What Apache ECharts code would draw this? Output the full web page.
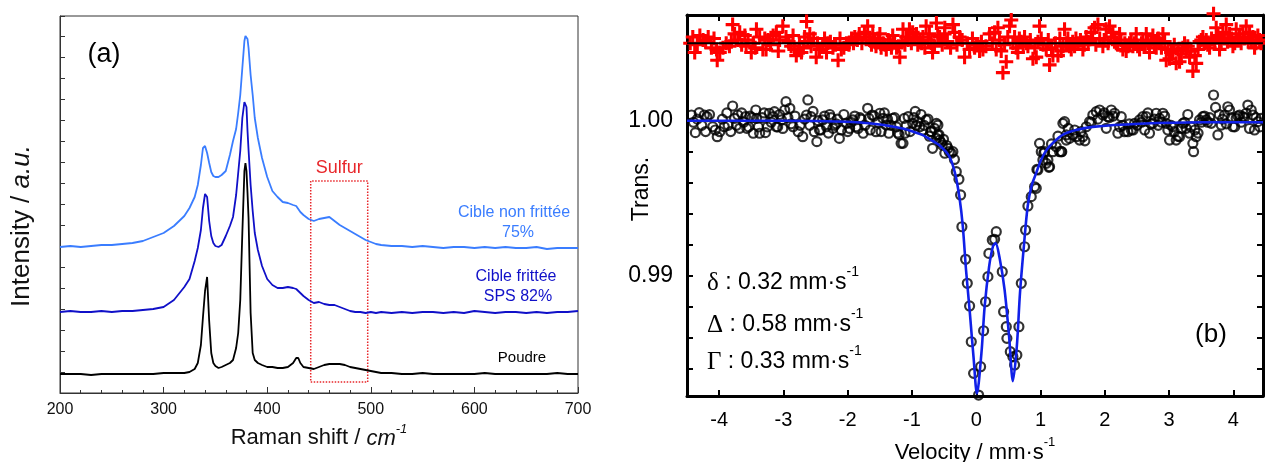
<!DOCTYPE html>
<html><head><meta charset="utf-8">
<script src="https://cdn.jsdelivr.net/npm/echarts@6/dist/echarts.min.js"></script>
<style>html,body{margin:0;padding:0;background:#fff}#c{width:1265px;height:462px}</style>
</head><body><div id="c"></div>
<script>
// ---------- Panel (a): Raman spectra ----------
const ramanShift = [200,210,220,230,240,250,260,270,280,290,300,310,320,325,330,333,336,338,340,342,344,346,348,350,353,356,360,364,367,370,372,374,376,378,379,380,381,382,384,386,388,391,395,400,405,410,415,420,425,428,430,432,435,440,445,450,455,460,465,470,475,480,485,490,495,500,505,510,520,530,540,550,560,570,580,590,600,610,620,630,640,650,660,670,680,690,700];
const ramanNonFrittee = [146,147,146,147,148,148,149,150,152,156,160,167,177,185,196,208,228,245,247,240,230,221,217,216,216,218,222,238,252,264,280,298,325,352,357,356,354,345,318,298,275,255,235,216,202,196,191,190,188,187,184,181,178,174,172,174,175,176,172,168,165,162,159,156,153,151,149,148,147,147,146,147,146,145,146,146,145,146,145,146,145,145,146,144,145,145,145];
const ramanFrittee = [81,82,81,81,82,81,82,82,83,84,86,93,106,114,132,145,163,185,199,196,172,157,150,147,146,148,157,167,176,198,220,242,275,291,291,286,262,243,208,182,160,143,127,114,108,105,105,106,105,104,102,100,97,93,90,91,89,88,88,86,84,82,81,81,80,81,80,81,80,81,80,81,81,80,81,80,82,81,80,81,81,80,81,80,81,81,82];
const ramanPoudre = [19,19,19,18,19,19,19,19,19,19,20,20,20,21,24,30,48,76,102,116,72,40,30,27,25,26,28,30,33,45,60,93,160,222,230,222,200,175,80,40,33,30,28,26,26,25,25,26,30,35,35,30,26,25,24,26,28,29,29,29,28,26,25,24,23,22,21,20,20,19,19,20,19,19,19,19,19,20,19,19,19,19,19,19,20,19,19];
const ramanTicks = [200,300,400,500,600,700];
const sulfurBoxX = [442,497];
const sulfurBoxY = [11,212];

// ---------- Panel (b): Mossbauer spectrum ----------
const velocityTicks = [-4,-3,-2,-1,0,1,2,3,4];
const transTicks = [0.984,0.986,0.988,0.990,0.992,0.994,0.996,0.998,1.000];
const transLabels = [0.99,1.00];
const residualZero = 1.005;
const mossSpectrum = [
[-4.43,1.00037],[-4.40,0.9999],[-4.37,0.99923],[-4.34,1.0001],[-4.31,1.00052],[-4.27,0.9997],[-4.23,1.00037],[-4.21,0.9993],[-4.19,1.00026],[-4.15,1.0004],[-4.10,0.99961],[-4.06,0.9994],[-4.03,0.99897],[-3.99,0.99929],[-3.95,1.0001],[-3.92,0.99961],[-3.88,1.0005],[-3.86,0.9997],[-3.82,0.9993],[-3.79,1.00095],[-3.76,1.00015],[-3.73,0.9997],[-3.71,1.00037],[-3.68,0.99951],[-3.65,1.0005],[-3.62,0.9999],[-3.59,1.00026],[-3.57,0.99951],[-3.54,0.9996],[-3.52,1.0003],[-3.49,1.0002],[-3.47,0.99919],[-3.43,1.00069],[-3.42,1.00015],[-3.39,0.9996],[-3.37,0.99919],[-3.33,1.0002],[-3.30,1.0005],[-3.28,0.99923],[-3.25,0.9996],[-3.22,1.00048],[-3.19,0.9999],[-3.16,1.00026],[-3.14,1.00058],[-3.11,0.9996],[-3.09,0.9996],[-3.06,1.0004],[-3.03,1.00005],[-3.01,0.9995],[-2.98,1.00069],[-2.96,1.00123],[-2.93,1.0002],[-2.90,1.00080],[-2.88,0.9998],[-2.85,0.99961],[-2.82,1.0003],[-2.77,0.99929],[-2.74,0.9997],[-2.70,0.99897],[-2.67,1.0001],[-2.64,1.00037],[-2.62,1.00134],[-2.59,0.9997],[-2.57,1.00026],[-2.54,1.0006],[-2.52,0.99929],[-2.48,0.99865],[-2.46,1.0000],[-2.44,0.9994],[-2.42,0.9994],[-2.39,1.00005],[-2.36,1.0003],[-2.33,0.99961],[-2.30,0.9992],[-2.28,1.0004],[-2.26,1.0002],[-2.23,0.99951],[-2.20,0.9997],[-2.18,0.9998],[-2.16,1.0001],[-2.13,0.99886],[-2.10,0.99940],[-2.06,1.0004],[-2.02,0.99983],[-2.00,0.9993],[-1.97,0.9995],[-1.95,0.9999],[-1.92,1.00005],[-1.89,1.0003],[-1.87,0.99961],[-1.84,0.9995],[-1.81,1.0002],[-1.79,1.0001],[-1.76,0.99919],[-1.73,0.9997],[-1.69,1.00080],[-1.67,1.00015],[-1.65,0.9994],[-1.62,1.00037],[-1.59,1.0003],[-1.56,0.99929],[-1.53,0.9999],[-1.50,1.00048],[-1.48,0.9993],[-1.45,1.00015],[-1.43,1.0005],[-1.40,0.99972],[-1.38,1.0001],[-1.36,0.99919],[-1.33,0.9997],[-1.30,1.00015],[-1.27,1.0002],[-1.24,0.9996],[-1.22,0.9992],[-1.20,0.9991],[-1.17,0.99854],[-1.14,0.99854],[-1.12,1.00015],[-1.11,0.99919],[-1.09,0.9997],[-1.06,1.00026],[-1.03,0.9993],[-0.99,0.99983],[-0.97,1.0002],[-0.95,1.0006],[-0.93,0.9997],[-0.91,0.99994],[-0.88,0.99961],[-0.86,1.0004],[-0.83,0.99940],[-0.81,0.9997],[-0.78,1.00005],[-0.75,1.0001],[-0.73,0.9990],[-0.71,0.9993],[-0.70,0.99929],[-0.68,0.99822],[-0.65,0.9995],[-0.62,0.99983],[-0.62,0.99886],[-0.60,0.99908],[-0.597,0.99972],[-0.58,0.9991],[-0.571,0.99875],[-0.55,0.9986],[-0.529,0.99843],[-0.51,0.9988],[-0.49,0.99790],[-0.46,0.9984],[-0.442,0.99822],[-0.42,0.9980],[-0.39,0.9979],[-0.364,0.99800],[-0.34,0.9975],
[-0.311,0.99671],[-0.270,0.99622],[-0.244,0.99521],[-0.224,0.99316],[-0.166,0.99106],[-0.140,0.98951],[-0.104,0.98805],[-0.078,0.98574],[-0.042,0.98370],[0.036,0.98230],[0.067,0.98413],[0.114,0.98645],[0.145,0.98832],[0.181,0.98994],[0.196,0.99144],[0.249,0.99230],[0.285,0.99235],[0.311,0.99284],[0.404,0.99026],[0.425,0.98768],[0.467,0.98671],[0.476,0.98596],[0.529,0.98510],[0.569,0.98477],[0.596,0.98424],[0.631,0.98488],[0.663,0.98671],[0.700,0.98951],[0.751,0.99187],[0.767,0.99295],[0.803,0.99450],[0.855,0.99510],[0.907,0.99574],[0.933,0.99564],[0.943,0.99686],[0.958,0.99682],
[0.984,0.99854],[1.011,0.99800],[1.036,0.99746],[1.05,0.9979],[1.062,0.99800],[1.089,0.99725],[1.114,0.99746],[1.130,0.99699],[1.140,0.99703],[1.17,0.9985],[1.191,0.99800],[1.244,0.99832],[1.27,0.9990],[1.295,0.99800],[1.322,0.99800],[1.33,0.9980],[1.347,0.99983],[1.373,0.99994],[1.400,0.99875],[1.40,0.99908],[1.43,0.9995],[1.451,0.99886],[1.502,0.99908],[1.53,0.9994],[1.555,0.99897],[1.607,0.99875],[1.63,0.9993],[1.658,0.99897],[1.69,0.9987],[1.711,0.99961],[1.762,0.99994],[1.79,0.9999],[1.813,1.00037],[1.866,1.00058],[1.89,1.0001],[1.918,1.00069],[1.969,1.00037],[1.99,1.0005],[2.022,0.99951],[2.047,1.00026],[2.07,1.0002],[2.100,1.00069],[2.13,1.0003],[2.151,1.00048],[2.202,0.99919],[2.23,0.9996],[2.255,1.00026],[2.28,0.9997],[2.306,0.99929],[2.358,0.99929],[2.38,0.9998],[2.411,0.99940],[2.44,0.9994],[2.462,0.99983],[2.50,0.9997],[2.540,1.00005],[2.57,0.9999],[2.591,1.00026],[2.62,0.9994],[2.644,1.00026],[2.67,1.0005],[2.695,0.99919],[2.72,0.9998],[2.747,0.99983],[2.77,1.0001],[2.799,1.00048],[2.83,0.9997],[2.851,1.00015],[2.88,0.9999],[2.902,1.00048],[2.93,1.0003],[2.955,0.99983],[2.98,0.9994],[3.006,0.99875],[3.03,0.9997],[3.058,0.99961],[3.08,0.9993],[3.110,0.99875],[3.14,0.9990],[3.162,0.99897],[3.19,0.9995],[3.213,0.99983],[3.24,0.9999],[3.265,0.99951],[3.29,1.0004],[3.317,0.99919],[3.34,0.9996],[3.369,0.99854],[3.380,0.99800],[3.40,0.9994],[3.421,0.99897],[3.45,0.9992],[3.473,1.00005],[3.50,0.9999],[3.524,1.00026],[3.55,1.0003],[3.577,1.00005],[3.60,0.9999],[3.63,1.0002],[3.655,0.99983],[3.691,1.00166],[3.722,1.00086],[3.758,0.99908],[3.78,1.0004],[3.810,0.99972],[3.83,1.0001],[3.862,1.00037],[3.89,0.9998],[3.913,1.00090],[3.940,1.00069],[3.97,1.0002],[3.991,0.99961],[4.02,0.9996],[4.043,1.00015],[4.07,1.0003],[4.095,1.00037],[4.12,0.9999],[4.146,1.00026],[4.17,1.0002],[4.199,1.00048],[4.224,1.00101],[4.25,0.9995],[4.277,1.00069],[4.302,1.00037],[4.328,0.99940],[4.35,1.0002],[4.380,0.99994],[4.41,0.9996],[4.432,1.00015]
];
const mossFit = [[-4.5,1.0000],[-3.0,1.0000],[-2.0,0.99993],[-1.6,0.9998],[-1.15,0.9995],[-0.85,0.9991],[-0.72,0.9988],[-0.57,0.9984],[-0.42,0.9977],[-0.33,0.9966],[-0.26,0.9950],[-0.21,0.9932],[-0.16,0.9904],[-0.10,0.9876],[-0.04,0.9846],[0.01,0.9824],[0.08,0.9850],[0.13,0.9880],[0.20,0.9906],[0.26,0.9919],[0.30,0.9921],[0.36,0.9912],[0.44,0.9891],[0.51,0.9861],[0.57,0.9832],[0.63,0.9854],[0.68,0.9889],[0.74,0.9919],[0.80,0.9945],[0.86,0.9958],[0.93,0.9966],[1.00,0.9974],[1.09,0.9981],[1.20,0.9986],[1.35,0.9991],[1.55,0.9994],[1.81,0.9996],[2.54,0.9998],[3.5,0.9999],[4.46,0.9999]];
const mossResidual = [
[-4.45,1.0050],[-4.41,1.0054],[-4.38,1.0044],[-4.34,1.0049],[-4.30,1.0055],[-4.25,1.0052],[-4.21,1.0051],[-4.17,1.0054],[-4.12,1.0047],[-4.08,1.0053],[-4.04,1.0046],[-4.03,1.0039],[-3.99,1.0044],[-3.94,1.0047],[-3.89,1.0050],[-3.84,1.0048],[-3.81,1.0051],[-3.79,1.0062],[-3.76,1.0056],[-3.71,1.0052],[-3.68,1.0057],[-3.65,1.0049],[-3.60,1.0055],[-3.58,1.0048],[-3.55,1.0052],[-3.50,1.0044],[-3.47,1.0050],[-3.44,1.0047],[-3.42,1.0059],[-3.37,1.0054],[-3.32,1.0046],[-3.29,1.0053],[-3.27,1.0046],[-3.24,1.0052],[-3.20,1.0049],[-3.16,1.0055],[-3.11,1.0057],[-3.08,1.0045],[-3.06,1.0052],[-3.01,1.0061],[-2.96,1.0054],[-2.92,1.0051],[-2.88,1.0048],[-2.85,1.0055],[-2.83,1.0046],[-2.80,1.0042],[-2.75,1.0050],[-2.72,1.0044],[-2.69,1.0047],[-2.67,1.0054],[-2.64,1.0064],[-2.62,1.0051],[-2.59,1.0056],[-2.57,1.0048],[-2.53,1.0053],[-2.49,1.0041],[-2.47,1.0050],[-2.44,1.0046],[-2.39,1.0048],[-2.36,1.0053],[-2.33,1.0044],[-2.31,1.0050],[-2.27,1.0051],[-2.23,1.0047],[-2.19,1.0049],[-2.15,1.0039],[-2.12,1.0053],[-2.10,1.0046],[-2.06,1.0047],[-2.02,1.0050],[-1.98,1.0049],[-1.94,1.0053],[-1.91,1.0050],[-1.89,1.0054],[-1.85,1.0052],[-1.82,1.0056],[-1.78,1.0050],[-1.74,1.0057],[-1.71,1.0054],[-1.69,1.0061],[-1.66,1.0052],[-1.63,1.0049],[-1.61,1.0056],[-1.58,1.0051],[-1.56,1.0048],[-1.53,1.0053],[-1.50,1.0056],[-1.48,1.0047],[-1.45,1.0050],[-1.42,1.0049],[-1.40,1.0046],[-1.37,1.0052],[-1.35,1.0050],[-1.32,1.0047],[-1.30,1.0055],[-1.27,1.0051],[-1.24,1.0047],[-1.21,1.0048],[-1.19,1.0041],[-1.16,1.0051],[-1.14,1.0059],[-1.11,1.0049],[-1.09,1.0054],[-1.06,1.0052],[-1.04,1.0059],[-1.01,1.0050],[-0.99,1.0057],[-0.96,1.0053],[-0.93,1.0056],[-0.91,1.0049],[-0.88,1.0052],[-0.85,1.0050],[-0.83,1.0054],[-0.80,1.0047],[-0.78,1.0061],[-0.75,1.0052],[-0.73,1.0056],[-0.70,1.0050],[-0.68,1.0044],[-0.65,1.0048],[-0.62,1.0063],[-0.60,1.0055],[-0.571,1.0054],[-0.53,1.0049],[-0.493,1.0056],[-0.49,1.0060],[-0.45,1.0051],[-0.40,1.0047],[-0.363,1.0062],[-0.337,1.0057],[-0.30,1.0049],[-0.260,1.0054],[-0.22,1.0052],[-0.182,1.0041],[-0.14,1.0050],[-0.104,1.0046],[-0.06,1.0053],[-0.026,1.0047],[0.01,1.0049],[0.051,1.0045],[0.08,1.0051],[0.103,1.0046],[0.15,1.0048],[0.207,1.0056],[0.25,1.0050],[0.285,1.0057],[0.31,1.0046],[0.336,1.0060],[0.36,1.0052],[0.388,1.0045],[0.414,1.0031],[0.44,1.0049],[0.466,1.0038],[0.49,1.0054],[0.518,1.0061],[0.544,1.0065],[0.57,1.0050],[0.596,1.0054],[0.62,1.0047],[0.647,1.0044],[0.67,1.0053],[0.699,1.0051],[0.73,1.0048],[0.751,1.0054],[0.78,1.0050],[0.803,1.0048],[0.84,1.0052],[0.881,1.0040],[0.91,1.0047],[0.933,1.0041],[0.96,1.0051],[0.984,1.0061],[1.010,1.0053],[1.04,1.0049],[1.088,1.0046],[1.12,1.0052],[1.140,1.0036],[1.17,1.0047],[1.192,1.0042],[1.23,1.0050],[1.270,1.0042],[1.30,1.0053],[1.321,1.0045],[1.35,1.0048],[1.373,1.0059],[1.40,1.0050],[1.425,1.0053],[1.45,1.0048],[1.477,1.0046],[1.50,1.0051],[1.529,1.0048],[1.55,1.0053],[1.581,1.0050],[1.62,1.0052],[1.658,1.0046],[1.68,1.0049],[1.710,1.0054],[1.74,1.0051],[1.788,1.0057],[1.81,1.0053],[1.840,1.0060],[1.86,1.0049],[1.892,1.0062],[1.92,1.0053],[1.969,1.0048],[1.99,1.0052],[2.021,1.0059],[2.05,1.0050],[2.073,1.0061],[2.10,1.0054],[2.125,1.0057],[2.15,1.0051],[2.177,1.0050],[2.20,1.0049],[2.229,1.0056],[2.25,1.0052],[2.280,1.0046],[2.31,1.0050],[2.332,1.0045],[2.36,1.0048],[2.384,1.0050],[2.41,1.0052],[2.436,1.0048],[2.46,1.0050],[2.488,1.0056],[2.51,1.0048],[2.540,1.0046],[2.57,1.0050],[2.592,1.0052],[2.62,1.0048],[2.644,1.0056],[2.67,1.0050],[2.695,1.0044],[2.72,1.0051],[2.747,1.0055],[2.77,1.0049],[2.799,1.0047],[2.83,1.0053],[2.851,1.0050],[2.88,1.0047],[2.903,1.0056],[2.93,1.0051],[2.955,1.0039],[2.98,1.0046],[3.006,1.0040],[3.03,1.0044],[3.058,1.0045],[3.08,1.0049],[3.110,1.0037],[3.14,1.0046],[3.162,1.0038],[3.19,1.0043],[3.214,1.0047],[3.24,1.0050],[3.266,1.0045],[3.29,1.0048],[3.318,1.0041],[3.34,1.0045],[3.369,1.0032],[3.40,1.0042],[3.421,1.0037],[3.45,1.0046],[3.473,1.0051],[3.50,1.0052],[3.525,1.0054],[3.55,1.0050],[3.577,1.0052],[3.60,1.0049],[3.629,1.0047],[3.66,1.0053],[3.691,1.0069],[3.71,1.0051],[3.732,1.0060],[3.76,1.0055],[3.784,1.0046],[3.81,1.0050],[3.836,1.0057],[3.86,1.0053],[3.888,1.0062],[3.91,1.0051],[3.940,1.0056],[3.97,1.0053],[3.992,1.0048],[4.02,1.0050],[4.043,1.0059],[4.07,1.0052],[4.095,1.0054],[4.12,1.0050],[4.147,1.0056],[4.17,1.0053],[4.199,1.0061],[4.23,1.0051],[4.251,1.0057],[4.28,1.0052],[4.303,1.0054],[4.329,1.0047],[4.35,1.0050],[4.38,1.0055],[4.407,1.0052],[4.43,1.0050]
];

// ---------- build ----------
const zip = (xs, ys) => xs.map((x, i) => [x, ys[i]]);
const SANS = 'Liberation Sans, Arial, sans-serif';
const SERIF = 'Liberation Serif, Times New Roman, serif';
const blackAxis = {color: '#000', width: 3};

const chart = echarts.init(document.getElementById('c'), null, {renderer: 'canvas'});
chart.setOption({
  animation: false,
  backgroundColor: '#fff',
  grid: [
    {left: 60, top: 16, width: 518, height: 377, show: true, borderColor: '#333', borderWidth: 1, containLabel: false, outerBoundsMode: 'none'},
    {left: 687, top: 15, width: 576, height: 381, containLabel: false, outerBoundsMode: 'none'}
  ],
  xAxis: [
    {gridIndex: 0, type: 'value', min: 200, max: 700, interval: 100,
     axisLine: {show: true, lineStyle: {color: '#333', width: 1}},
     axisTick: {show: true, inside: true, length: 6, lineStyle: {color: '#333'}},
     minorTick: {show: true, splitNumber: 5, length: 3, lineStyle: {color: '#333'}},
     axisLabel: {fontSize: 16, color: '#111', fontFamily: SANS, margin: 9},
     splitLine: {show: false},
     name: 'Raman shift / {i|cm}{s|-1}', nameLocation: 'middle', nameGap: 28,
     nameTextStyle: {fontSize: 22, color: '#111', fontFamily: SANS,
       rich: {i: {fontSize: 22, fontStyle: 'italic', fontFamily: SANS, color: '#111'},
              s: {fontSize: 13, fontStyle: 'italic', fontFamily: SANS, color: '#111', padding: [0, 0, 18, 0]}}}},
    {gridIndex: 1, type: 'value', min: -4.5, max: 4.46,
     axisLine: {show: true, onZero: false, lineStyle: blackAxis},
     axisTick: {show: true, inside: true, length: 6, lineStyle: {color: '#000', width: 2}, customValues: velocityTicks},
     axisLabel: {fontSize: 20, color: '#000', fontFamily: SANS, margin: 14, customValues: velocityTicks},
     splitLine: {show: false},
     name: 'Velocity / mm·s{s|-1}', nameLocation: 'middle', nameGap: 40,
     nameTextStyle: {fontSize: 22, color: '#000', fontFamily: SANS,
       rich: {s: {fontSize: 13, fontFamily: SANS, color: '#000', padding: [0, 0, 20, 0]}}}},
    {gridIndex: 1, type: 'value', position: 'top', min: -4.5, max: 4.46,
     axisLine: {show: true, onZero: false, lineStyle: blackAxis},
     axisTick: {show: true, inside: true, length: 6, lineStyle: {color: '#000', width: 2}, customValues: velocityTicks},
     axisLabel: {show: false}, splitLine: {show: false}}
  ],
  yAxis: [
    {gridIndex: 0, type: 'value', min: 0, max: 377, interval: 21,
     axisLine: {show: true, lineStyle: {color: '#333', width: 1}},
     axisTick: {show: true, inside: true, length: 5, lineStyle: {color: '#333'}},
     axisLabel: {show: false}, splitLine: {show: false}},
    {gridIndex: 1, type: 'value', min: 0.98224, max: 1.00682,
     axisLine: {show: true, onZero: false, lineStyle: blackAxis},
     axisTick: {show: true, inside: true, length: 6, lineStyle: {color: '#000', width: 2}, customValues: transTicks},
     axisLabel: {fontSize: 23, color: '#000', fontFamily: SANS, margin: 14, customValues: transLabels,
       formatter: v => v.toFixed(2)},
     splitLine: {show: false}},
    {gridIndex: 1, type: 'value', position: 'right', min: 0.98224, max: 1.00682,
     axisLine: {show: true, onZero: false, lineStyle: blackAxis},
     axisTick: {show: true, inside: true, length: 6, lineStyle: {color: '#000', width: 2}, customValues: transTicks},
     axisLabel: {show: false}, splitLine: {show: false}}
  ],
  series: [
    {type: 'line', name: 'Cible non frittée 75%', xAxisIndex: 0, yAxisIndex: 0, data: zip(ramanShift, ramanNonFrittee),
     showSymbol: false, lineStyle: {color: '#3a7dff', width: 1.8}, itemStyle: {color: '#3a7dff'}},
    {type: 'line', name: 'Cible frittée SPS 82%', xAxisIndex: 0, yAxisIndex: 0, data: zip(ramanShift, ramanFrittee),
     showSymbol: false, lineStyle: {color: '#1010c8', width: 1.8}, itemStyle: {color: '#1010c8'}},
    {type: 'line', name: 'Poudre', xAxisIndex: 0, yAxisIndex: 0, data: zip(ramanShift, ramanPoudre),
     showSymbol: false, lineStyle: {color: '#000', width: 1.8}, itemStyle: {color: '#000'},
     markArea: {silent: true,
       itemStyle: {color: 'rgba(0,0,0,0)', borderColor: '#e8262a', borderWidth: 1.5, borderType: 'dotted'},
       label: {show: true, position: 'top', distance: 3, formatter: 'Sulfur', color: '#e8262a', fontSize: 18, fontFamily: SANS},
       data: [[{coord: [sulfurBoxX[0], sulfurBoxY[0]]}, {coord: [sulfurBoxX[1], sulfurBoxY[1]]}]]}},
    {type: 'line', name: 'zero', xAxisIndex: 1, yAxisIndex: 1, data: [[-4.5, residualZero], [4.46, residualZero]],
     showSymbol: false, lineStyle: {color: '#000', width: 2}, z: 3},
    {type: 'scatter', name: 'residual', xAxisIndex: 1, yAxisIndex: 1, data: mossResidual, clip: false,
     symbol: 'path://M3.9,0H6.1V3.9H10V6.1H6.1V10H3.9V6.1H0V3.9H3.9Z', symbolSize: 14, itemStyle: {color: '#ff0000', opacity: 1}, z: 2},
    {type: 'scatter', name: 'spectrum', xAxisIndex: 1, yAxisIndex: 1, data: mossSpectrum,
     symbol: 'circle', symbolSize: 9,
     itemStyle: {color: 'rgba(0,0,0,0)', borderColor: '#000', borderWidth: 2.2}, z: 2},
    {type: 'line', name: 'fit', xAxisIndex: 1, yAxisIndex: 1, data: mossFit, smooth: 0.3,
     showSymbol: false, lineStyle: {color: '#1020e8', width: 2.6}, z: 4}
  ],
  graphic: [
    {type: 'text', x: 104, y: 55, style: {text: '(a)', fontSize: 27, fontFamily: SANS, fill: '#000', textAlign: 'center', textVerticalAlign: 'middle'}},
    {type: 'text', x: 22, y: 226, rotation: Math.PI / 2,
     style: {text: 'Intensity / {i|a.u.}', fontSize: 26, fontFamily: SANS, fill: '#111', textAlign: 'center', textVerticalAlign: 'middle',
       rich: {i: {fontSize: 26, fontFamily: SANS, fontStyle: 'italic', fill: '#111'}}}},
    {type: 'text', x: 514, y: 213, style: {text: 'Cible non frittée', fontSize: 16, fontFamily: SANS, fill: '#3a7dff', textAlign: 'center', textVerticalAlign: 'middle'}},
    {type: 'text', x: 518, y: 233, style: {text: '75%', fontSize: 16, fontFamily: SANS, fill: '#3a7dff', textAlign: 'center', textVerticalAlign: 'middle'}},
    {type: 'text', x: 516, y: 277, style: {text: 'Cible frittée', fontSize: 16, fontFamily: SANS, fill: '#1010c8', textAlign: 'center', textVerticalAlign: 'middle'}},
    {type: 'text', x: 518, y: 297, style: {text: 'SPS 82%', fontSize: 16, fontFamily: SANS, fill: '#1010c8', textAlign: 'center', textVerticalAlign: 'middle'}},
    {type: 'text', x: 522, y: 358, style: {text: 'Poudre', fontSize: 15, fontFamily: SANS, fill: '#000', textAlign: 'center', textVerticalAlign: 'middle'}},
    {type: 'text', x: 642, y: 189, rotation: Math.PI / 2,
     style: {text: 'Trans.', fontSize: 23, fontFamily: SANS, fill: '#000', textAlign: 'center', textVerticalAlign: 'middle'}},
    {type: 'text', x: 707, y: 283, style: {text: '{g|δ} : 0.32 mm·s{s|-1}', fontSize: 23, fontFamily: SANS, fill: '#000', textAlign: 'left', textVerticalAlign: 'middle',
       rich: {g: {fontSize: 25, fontFamily: SERIF, fill: '#000'}, s: {fontSize: 14, fontFamily: SANS, fill: '#000', padding: [0, 0, 22, 0]}}}},
    {type: 'text', x: 707, y: 325, style: {text: '{g|Δ} : 0.58 mm·s{s|-1}', fontSize: 23, fontFamily: SANS, fill: '#000', textAlign: 'left', textVerticalAlign: 'middle',
       rich: {g: {fontSize: 25, fontFamily: SERIF, fill: '#000'}, s: {fontSize: 14, fontFamily: SANS, fill: '#000', padding: [0, 0, 22, 0]}}}},
    {type: 'text', x: 707, y: 362, style: {text: '{g|Γ} : 0.33 mm·s{s|-1}', fontSize: 23, fontFamily: SANS, fill: '#000', textAlign: 'left', textVerticalAlign: 'middle',
       rich: {g: {fontSize: 25, fontFamily: SERIF, fill: '#000'}, s: {fontSize: 14, fontFamily: SANS, fill: '#000', padding: [0, 0, 22, 0]}}}},
    {type: 'text', x: 1211, y: 335, style: {text: '(b)', fontSize: 26, fontFamily: SANS, fill: '#000', textAlign: 'center', textVerticalAlign: 'middle'}}
  ]
});
</script></body></html>
